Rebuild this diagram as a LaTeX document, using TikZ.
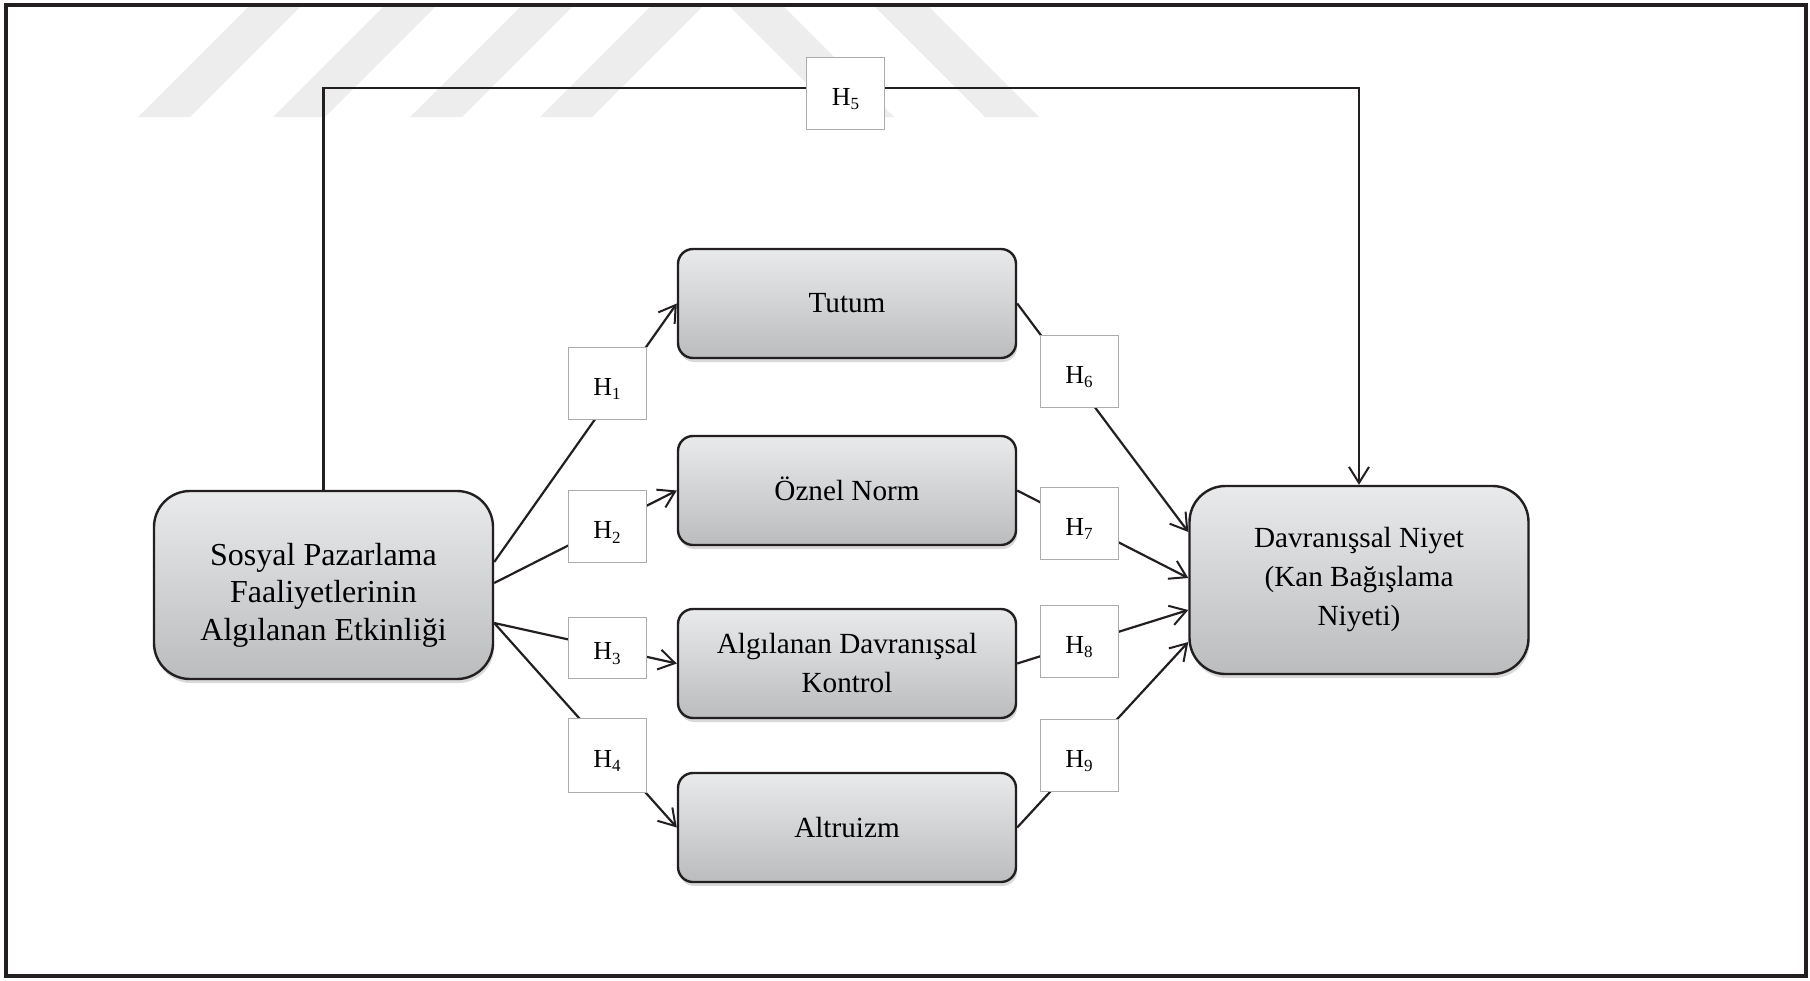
\documentclass[tikz,border=0pt]{standalone}
\usepackage{fontspec}
\setmainfont{Liberation Serif}
\usetikzlibrary{arrows.meta,shadows}

\definecolor{ink}{HTML}{231F20}
\definecolor{boxtop}{HTML}{E9EAEB}
\definecolor{boxbot}{HTML}{BBBCBE}
\definecolor{stripe}{HTML}{EDEDED}

% hypothesis label: H with a lowered small index
\newcommand\hyplabel[1]{H\raisebox{-2.2pt}{\fontsize{8.5}{10}\selectfont #1}}

\tikzset{
  construct/.style={draw=ink, line width=1.2pt, top color=boxtop, bottom color=boxbot,
    rounded corners=7.5pt, minimum width=169pt, minimum height=54.5pt,
    align=center, inner sep=0pt, font=\fontsize{14.6}{19.5}\selectfont,
    drop shadow={shadow xshift=0.6pt, shadow yshift=-2pt, opacity=0.3}},
  bigconstruct/.style={construct, rounded corners=18pt, minimum width=169.5pt, minimum height=94pt},
  hyp/.style={draw=gray!65, line width=0.5pt, fill=white, minimum width=39pt,
    minimum height=36pt, inner sep=0pt, text height=14.6pt, text depth=2.2pt,
    font=\fontsize{13}{15}\selectfont},
  link/.style={draw=ink, line width=1.1pt},
  arr/.style={link, -{Straight Barb[length=8pt,width=10pt,line width=1pt]}},
}

\begin{document}
\begin{tikzpicture}[x=0.5pt, y=-0.5pt]
\useasboundingbox (0,0) rectangle (1810,980);

% faint stripes along the top
\begin{scope}
  \clip (6,5) rectangle (1806,976);
  \foreach \b in {138,273,410,540}
    \fill[stripe] (\b,117) -- (\b+52,117) -- (\b+169,0) -- (\b+117,0) -- cycle;
  \foreach \b in {840,985}
    \fill[stripe] (\b,117) -- (\b+54,117) -- (\b-63,0) -- (\b-117,0) -- cycle;
\end{scope}

% outer frame
\draw[ink, line width=2.2pt] (6,5) rectangle (1806,976);

% constructs
\node[bigconstruct, font=\fontsize{16}{18.75}\selectfont] (spa) at (323.5,585)
  {\rule{0pt}{21pt}Sosyal Pazarlama\\Faaliyetlerinin\\Algılanan Etkinliği};
\node[construct] (tut) at (847,303.5) {Tutum};
\node[construct] (ozn) at (847,490.5) {\smash{Ö}znel Norm};
\node[construct] (adk) at (847,663.5) {Algılanan Davranışsal\\Kontrol};
\node[construct] (alt) at (847,827.5) {Altruizm};
\node[bigconstruct] (dn) at (1359,580) {Davranışsal Niyet\\(Kan Bağışlama\\Niyeti)};

% paths
\draw[arr] ([yshift=11.5pt]spa.east) -- (tut.west);
\draw[arr] ([yshift=1pt]spa.east) -- (ozn.west);
\draw[arr] ([yshift=-19pt]spa.east) -- (adk.west);
\draw[arr] ([yshift=-19pt]spa.east) -- (alt.west);
\draw[arr] (tut.east) -- ([yshift=24pt]dn.west);
\draw[arr] (ozn.east) -- ([yshift=1pt]dn.west);
\draw[arr] (adk.east) -- ([yshift=-15pt]dn.west);
\draw[arr] (alt.east) -- ([yshift=-31pt]dn.west);
\coordinate (ridge) at (845.5,88);
\draw[arr] (spa.north) |- (ridge) -| (dn.north);

% hypothesis labels
\node[hyp] (h1) at (607,383) {\hyplabel{1}};
\node[hyp] (h2) at (607,526.5) {\hyplabel{2}};
\node[hyp, minimum height=30.5pt] (h3) at (607,647.5) {\hyplabel{3}};
\node[hyp, minimum height=37pt] (h4) at (607,755) {\hyplabel{4}};
\node[hyp] (h5) at (845.5,93) {\hyplabel{5}};
\node[hyp] (h6) at (1079,371) {\hyplabel{6}};
\node[hyp] (h7) at (1079,523) {\hyplabel{7}};
\node[hyp] (h8) at (1079,641) {\hyplabel{8}};
\node[hyp] (h9) at (1079,755) {\hyplabel{9}};
\end{tikzpicture}
\end{document}
